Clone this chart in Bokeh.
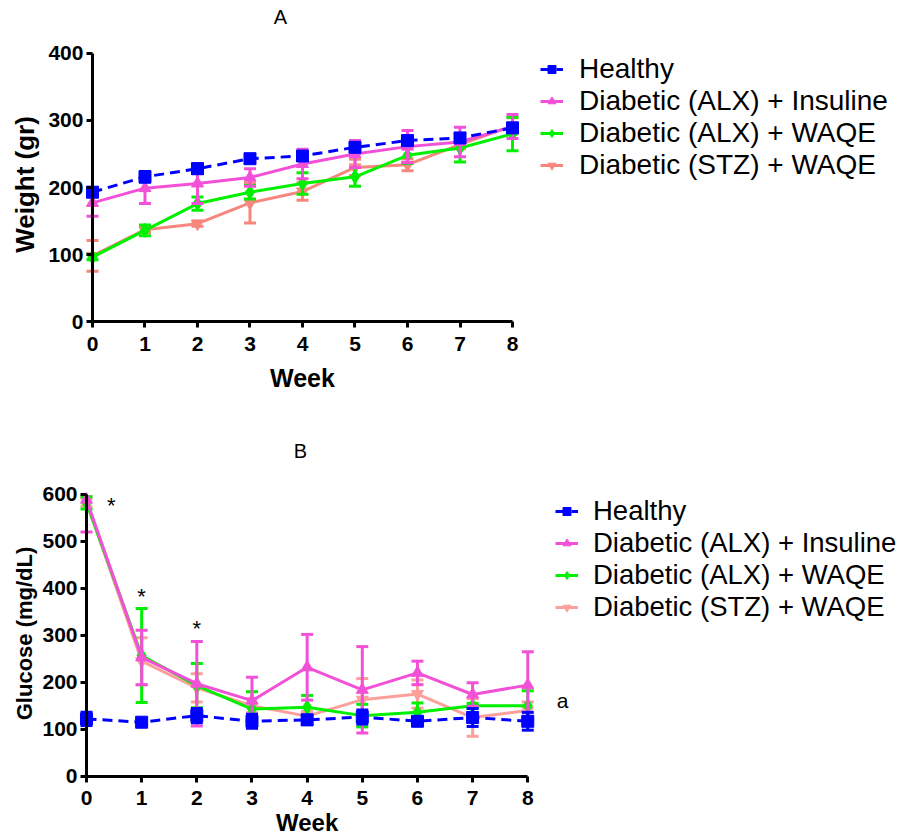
import math
from bokeh.plotting import figure
from bokeh.models import Range1d, FixedTicker, Legend, LegendItem, Label
from bokeh.layouts import column
from bokeh.embed import file_html
from bokeh.resources import INLINE

weeks = [0, 1, 2, 3, 4, 5, 6, 7, 8]
week_labels = ["0", "1", "2", "3", "4", "5", "6", "7", "8"]
series_names = ["Healthy", "Diabetic (ALX) + Insuline", "Diabetic (ALX) + WAQE", "Diabetic (STZ) + WAQE"]

# Panel A: weight (gr)
healthy_w = [193, 216, 228, 243, 247, 260, 270, 274, 289]
healthy_w_sd = [6, 8, 7, 5, 6, 6, 6, 6, 6]
insuline_w = [177, 199, 206, 215, 235, 250, 261, 268, 291]
insuline_w_sd = [20, 23, 30, 13, 22, 20, 24, 22, 18]
waqe_alx_w = [96, 136, 176, 193, 206, 216, 248, 259, 280]
waqe_alx_w_sd = [4, 8, 10, 10, 16, 14, 12, 21, 25]
stz_w = [98, 137, 146, 177, 194, 230, 234, 264, 292]
stz_w_sd = [23, 4, 4, 30, 13, 12, 9, 6, 12]
weight_ticks = [0, 100, 200, 300, 400]

# Panel B: glucose (mg/dL)
healthy_g = [122, 115, 129, 117, 120, 126, 117, 125, 117]
healthy_g_sd = [14, 5, 15, 15, 10, 15, 5, 19, 19]
insuline_g = [589, 253, 197, 161, 232, 184, 220, 174, 194]
insuline_g_sd = [69, 58, 90, 50, 70, 92, 25, 25, 71]
waqe_alx_g = [582, 257, 193, 143, 147, 129, 136, 150, 150]
waqe_alx_g_sd = [13, 100, 47, 37, 25, 24, 20, 5, 32]
stz_g = [585, 245, 188, 150, 128, 163, 175, 125, 140]
stz_g_sd = [10, 50, 30, 15, 10, 45, 30, 40, 18]
glucose_ticks = [0, 100, 200, 300, 400, 500, 600]
star_weeks = [0.45, 1, 2]
star_levels = [577, 383, 315]
note_week, note_level, note_text = 8.63, 162, "a"

FONT = "Liberation Sans"
BLUE = "#0000FF"
PINK = "#F350D8"
GREEN = "#00F000"
SALMON_A = "#F7877C"
SALMON_B = "#FCA09C"


def text_label(p, x, y, text, size, bold=False, angle=0.0):
    p.add_layout(Label(x=x, y=y, text=text, text_font=FONT, text_font_size=size,
                       text_font_style="bold" if bold else "normal", angle=angle,
                       text_align="center", text_baseline="middle", text_color="black"))


def style_axes(p, yticks, ymax):
    p.xgrid.grid_line_color = None
    p.ygrid.grid_line_color = None
    p.outline_line_color = None
    for ax in (p.xaxis[0], p.yaxis[0]):
        ax.fixed_location = 0
        ax.axis_line_width = 3
        ax.axis_line_color = "black"
        ax.major_tick_line_width = 3
        ax.major_tick_line_color = "black"
        ax.major_tick_out = 6
        ax.major_tick_in = 0
        ax.minor_tick_line_color = None
        ax.major_label_text_font = FONT
        ax.major_label_text_font_style = "bold"
        ax.major_label_text_font_size = "21px"
        ax.major_label_text_color = "black"
    xa = p.xaxis[0]
    xa.ticker = FixedTicker(ticks=weeks)
    xa.major_label_overrides = {w: l for w, l in zip(weeks, week_labels)}
    xa.bounds = (0, 8)
    xa.major_label_standoff = 9
    ya = p.yaxis[0]
    ya.ticker = FixedTicker(ticks=yticks)
    ya.bounds = (0, ymax)
    ya.major_label_standoff = 3


def draw_series(p, vals, sds, color, marker, msize, dash, ymax):
    lo = [v - s for v, s in zip(vals, sds)]
    hi = [min(v + s, ymax) for v, s in zip(vals, sds)]
    cap_x = [w for w, v, s in zip(weeks, vals, sds) if v + s <= ymax]
    cap_hi = [v + s for v, s in zip(vals, sds) if v + s <= ymax]
    p.segment(weeks, lo, weeks, hi, line_color=color, line_width=3)
    p.scatter(cap_x, cap_hi, marker="dash", size=12, line_color=color, line_width=3)
    p.scatter(weeks, lo, marker="dash", size=12, line_color=color, line_width=3)
    lr = p.line(weeks, vals, line_color=color, line_width=3, line_dash=dash)
    mr = p.scatter(weeks, vals, marker=marker, size=msize, fill_color=color, line_color=color)
    return [lr, mr]


def build(height, ymax, xr, yr, data, salmon, yticks, legend_loc, legend_font,
          legend_spacing, legend_standoff):
    p = figure(width=899, height=height, x_range=Range1d(*xr), y_range=Range1d(*yr),
               output_backend="svg", toolbar_location=None, title=None,
               min_border_left=0, min_border_right=0, min_border_top=0, min_border_bottom=0)
    style_axes(p, yticks, ymax)
    (h, hs), (ins, inss), (wa, was), (st, sts) = data
    r_st = draw_series(p, st, sts, salmon, "inverted_triangle", 12, "solid", ymax)
    r_wa = draw_series(p, wa, was, GREEN, "diamond", 14, "solid", ymax)
    r_in = draw_series(p, ins, inss, PINK, "triangle", 12, "solid", ymax)
    r_h = draw_series(p, h, hs, BLUE, "square", 12, "10 6", ymax)
    items = [LegendItem(label=n, renderers=r) for n, r in zip(series_names, [r_h, r_in, r_wa, r_st])]
    legend = Legend(items=items, location=legend_loc, label_text_font=FONT,
                    label_text_font_size=legend_font, label_text_color="black",
                    glyph_width=23, glyph_height=20, label_standoff=legend_standoff,
                    padding=0, margin=0, spacing=legend_spacing,
                    border_line_color=None, background_fill_alpha=0)
    p.add_layout(legend)
    return p


pA = build(427, 400, (-1.752, 15.371), (-158.2, 479.1),
           [(healthy_w, healthy_w_sd), (insuline_w, insuline_w_sd),
            (waqe_alx_w, waqe_alx_w_sd), (stz_w, stz_w_sd)],
           SALMON_A, weight_ticks, (540, 246), "28px", 0, 16)
text_label(pA, 3.58, 455, "A", "20px")
text_label(pA, -1.276, 204.5, "Weight (gr)", "26px", bold=True, angle=math.pi / 2)
text_label(pA, 4.0, -83.6, "Week", "25px", bold=True)

pB = build(411, 600, (-1.559, 14.739), (-132.7, 742.7),
           [(healthy_g, healthy_g_sd), (insuline_g, insuline_g_sd),
            (waqe_alx_g, waqe_alx_g_sd), (stz_g, stz_g_sd)],
           SALMON_B, glucose_ticks, (555, 215), "27.5px", 0, 15)
text_label(pB, 3.88, 693.7, "B", "20px")
text_label(pB, -1.124, 304, "Glucose (mg/dL)", "22px", bold=True, angle=math.pi / 2)
text_label(pB, 4.0, -99.5, "Week", "24px", bold=True)
for sx, sy in zip(star_weeks, star_levels):
    text_label(pB, sx, sy, "*", "22px")
text_label(pB, note_week, note_level, note_text, "21px")

layout = column(pA, pB)
open("out.html", "w").write(file_html(layout, INLINE))
